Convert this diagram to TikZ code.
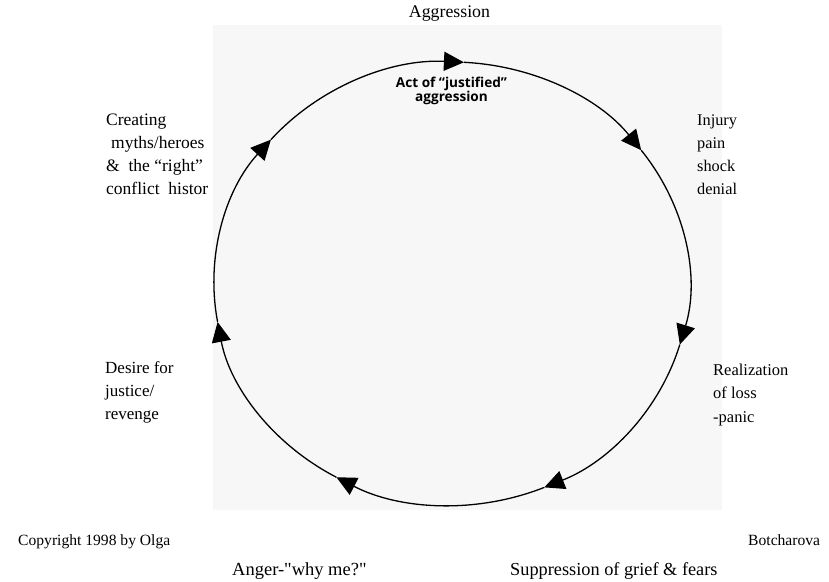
\documentclass[tikz,border=0pt]{standalone}
\usepackage{fontspec}
\setmainfont{Liberation Serif}
\newfontfamily\rawserif{Liberation Serif}
\newfontfamily\actfont{Open Sans}
\usetikzlibrary{arrows.meta}
\tikzset{
  x=1pt, y=1pt,
  cyc/.style={line width=1.3pt, -{Triangle[length=20pt,width=19pt]}},
  lbl/.style={inner sep=0pt, align=left, anchor=base west},
}
\begin{document}
\begin{tikzpicture}
\useasboundingbox (0,0) rectangle (829,581);
% faint scanned page behind the cycle
\fill[black!3] (213,71) rectangle (722,556);
\coordinate (C) at (451.5,297.5);
\coordinate (t1) at ([shift={(87:237.5pt and 221.5pt)}]C);
\coordinate (t2) at ([shift={(37:237.5pt and 221.5pt)}]C);
\coordinate (t3) at ([shift={(-16:237.5pt and 221.5pt)}]C);
\coordinate (t4) at ([shift={(-67:237.5pt and 221.5pt)}]C);
\coordinate (t5) at ([shift={(-119:237.5pt and 221.5pt)}]C);
\coordinate (t6) at ([shift={(-170:237.5pt and 221.5pt)}]C);
\coordinate (t7) at ([shift={(139.5:237.5pt and 221.5pt)}]C);
\draw[cyc] (t7) arc[start angle=139.5, end angle=87, x radius=237.5pt, y radius=221.5pt];
\draw[cyc] (t1) arc[start angle=87, end angle=37, x radius=237.5pt, y radius=221.5pt];
\draw[cyc] (t2) arc[start angle=37, end angle=-16, x radius=237.5pt, y radius=221.5pt];
\draw[cyc] (t3) arc[start angle=-16, end angle=-67, x radius=237.5pt, y radius=221.5pt];
\draw[cyc] (t4) arc[start angle=-67, end angle=-119, x radius=237.5pt, y radius=221.5pt];
\draw[cyc] (t5) arc[start angle=-119, end angle=-170, x radius=237.5pt, y radius=221.5pt];
\draw[cyc] (t6) arc[start angle=-170, end angle=-220.5, x radius=237.5pt, y radius=221.5pt];
% labels (base anchor of a multi-line node = last line's baseline)
\node[inner sep=0pt, anchor=base, font=\fontsize{17.8}{20}\selectfont] (aggr) at (449.5,563) {Aggression};
\node[inner sep=0pt, anchor=base, align=center, font=\actfont\bfseries\fontsize{13.6}{14}\selectfont] (act) at (451.5,479) {Act of “justified”\\aggression};
\node[lbl, font=\fontsize{17.5}{23}\selectfont] (myth) at (106,386) {Creating\\\hspace{5pt}myths/heroes\\\&\ \ the “right”\\conflict\ \ histor};
\node[lbl, font=\fontsize{16.3}{23}\selectfont] (injury) at (697,386) {Injury\\pain\\shock\\denial};
\node[lbl, font=\fontsize{16.5}{23.5}\selectfont] (loss) at (713,159) {Realization\\of loss\\-panic};
\node[lbl, font=\fontsize{17}{23}\selectfont] (desire) at (105,161) {Desire for\\justice/\\revenge};
\node[lbl, font=\fontsize{15.6}{18}\selectfont] (copy) at (18,36) {Copyright 1998 by Olga};
\node[lbl, font=\fontsize{15.6}{18}\selectfont] (botch) at (748,36) {Botcharova};
\node[lbl, font=\rawserif\fontsize{18.5}{20}\selectfont] (anger) at (232,6) {Anger-"why me?"};
\node[lbl, font=\fontsize{18.3}{20}\selectfont] (supp) at (510,6) {Suppression of grief \& fears};
\end{tikzpicture}
\end{document}
